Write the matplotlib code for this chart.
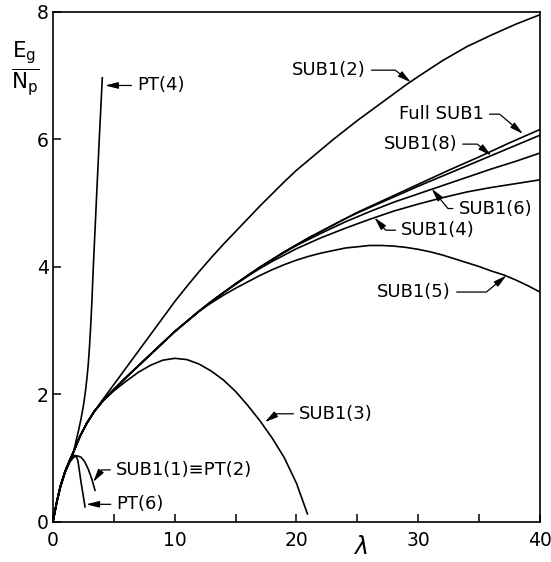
import matplotlib
matplotlib.use("Agg")
import matplotlib.pyplot as plt

plt.rcParams['font.family'] = ['DejaVu Sans']

# curves (lambda, E_g/N_p)
start_lam = [0, 0.3, 0.6, 1.0, 1.4, 1.7]
start_E = [0, 0.30, 0.55, 0.79, 0.97, 1.10]

pt4_lam = start_lam + [1.9, 2.1, 2.3, 2.5, 2.65, 2.8, 2.9, 3.0, 3.1, 3.2, 3.3, 3.55, 3.8, 4.05]
pt4_E = start_E + [1.27, 1.43, 1.61, 1.82, 2.02, 2.27, 2.48, 2.75, 3.08, 3.48, 3.95, 4.98, 6.0, 6.96]

pt6_lam = [0, 0.3, 0.6, 1.0, 1.4, 1.7, 1.9, 2.05, 2.3, 2.63]
pt6_E = [0, 0.29, 0.53, 0.78, 0.96, 1.04, 1.03, 0.95, 0.62, 0.23]

sub1_1_lam = [0, 0.3, 0.6, 1.0, 1.4, 1.7, 2.0, 2.3, 2.6, 2.9, 3.2, 3.45]
sub1_1_E = [0, 0.29, 0.53, 0.77, 0.94, 1.01, 1.03, 1.01, 0.94, 0.82, 0.66, 0.49]

bundle_lam = start_lam + [2.2, 2.77, 3.4]
bundle_E = start_E + [1.33, 1.54, 1.73]

sub1_2_lam = bundle_lam + [4, 5, 6, 7, 8, 9, 10, 11, 12, 13, 14, 15, 16, 17, 18, 19, 20, 21, 22,
                           23, 24, 25, 26, 27, 28, 29, 30, 32, 34, 36, 38, 40]
sub1_2_E = bundle_E + [1.89, 2.15, 2.41, 2.67, 2.93, 3.19, 3.45, 3.69, 3.92, 4.14, 4.35,
                       4.55, 4.75, 4.95, 5.14, 5.33, 5.51, 5.67, 5.83, 5.99, 6.14, 6.29,
                       6.43, 6.57, 6.71, 6.85, 6.98, 7.23, 7.45, 7.63, 7.80, 7.95]

sub1_3_lam = bundle_lam + [4.13, 5, 6, 7, 8, 9, 10, 11, 12, 13, 14, 15, 16, 17, 18, 19, 20, 20.9]
sub1_3_E = bundle_E + [1.90, 2.05, 2.20, 2.34, 2.45, 2.53, 2.56, 2.54, 2.47, 2.36, 2.22, 2.04,
                       1.82, 1.58, 1.31, 1.00, 0.60, 0.12]

mid_lam = bundle_lam + [4.13, 5, 6, 7, 8, 9, 10, 11, 12]
mid_E = bundle_E + [1.90, 2.07, 2.26, 2.44, 2.62, 2.80, 2.98, 3.14, 3.30]

full_lam = mid_lam + [13, 14, 15, 16, 17, 18, 19, 20, 21, 22, 23, 24, 25, 27.5, 30, 32.5, 35, 37.5, 40]
full_E = mid_E + [3.45, 3.59, 3.73, 3.86, 3.99, 4.11, 4.23, 4.34, 4.45, 4.55, 4.65, 4.75, 4.85,
                  5.07, 5.29, 5.51, 5.72, 5.94, 6.15]

sub1_8_lam = mid_lam + [13, 14, 15, 16, 17, 18, 19, 20, 21, 22, 23, 24, 25, 27.5, 30, 32.5, 35, 37.5, 40]
sub1_8_E = mid_E + [3.45, 3.59, 3.73, 3.86, 3.99, 4.11, 4.23, 4.34, 4.45, 4.55, 4.65, 4.75, 4.84,
                    5.05, 5.26, 5.46, 5.66, 5.86, 6.06]

sub1_6_lam = mid_lam + [13, 14, 15, 16, 17, 18, 19, 20, 22, 24, 26, 28, 30, 32, 34, 36, 38, 40]
sub1_6_E = mid_E + [3.45, 3.59, 3.73, 3.86, 3.99, 4.11, 4.22, 4.33, 4.52, 4.70, 4.86, 5.01, 5.14,
                    5.27, 5.40, 5.53, 5.65, 5.78]

sub1_4_lam = mid_lam + [13, 14, 15, 16, 17, 18, 19, 20, 22, 24, 26, 28, 30, 32, 34, 36, 38, 40]
sub1_4_E = mid_E + [3.45, 3.59, 3.72, 3.85, 3.97, 4.08, 4.18, 4.28, 4.45, 4.60, 4.74, 4.87, 4.98,
                    5.08, 5.17, 5.24, 5.30, 5.36]

sub1_5_lam = mid_lam + [13, 14, 15, 16, 17, 18, 19, 20, 21, 22, 23, 24, 25, 26, 27, 28, 29, 30,
                        31, 32, 33, 34, 35, 36, 37, 38, 39, 40]
sub1_5_E = mid_E + [3.43, 3.55, 3.66, 3.76, 3.86, 3.95, 4.03, 4.10, 4.16, 4.21, 4.25, 4.29, 4.31,
                    4.33, 4.33, 4.32, 4.30, 4.27, 4.23, 4.18, 4.12, 4.06, 4.00, 3.93, 3.87, 3.79,
                    3.70, 3.60]

fig = plt.figure(figsize=(5.51, 5.62), dpi=100)
ax = fig.add_axes([0.0962, 0.072, 0.8838, 0.9075])

for lam, E in [(pt4_lam, pt4_E), (pt6_lam, pt6_E), (sub1_1_lam, sub1_1_E),
               (sub1_2_lam, sub1_2_E), (sub1_3_lam, sub1_3_E), (full_lam, full_E),
               (sub1_8_lam, sub1_8_E), (sub1_6_lam, sub1_6_E), (sub1_4_lam, sub1_4_E),
               (sub1_5_lam, sub1_5_E)]:
    ax.plot(lam, E, color='black', lw=1.2, solid_joinstyle='round')

ax.set_xlim(0, 40)
ax.set_ylim(0, 8)
ax.set_xticks([0, 10, 20, 30, 40])
ax.set_xticks([5, 15, 25, 35], minor=True)
ax.set_yticks([0, 2, 4, 6, 8])
ax.tick_params(axis='both', which='both', direction='in', length=6, width=1.1,
               labelsize=13.5, top=False, right=False)
ax.tick_params(axis='x', pad=7)
ax.tick_params(axis='y', pad=3)
for s in ax.spines.values():
    s.set_linewidth(1.2)

fig.text(0.653, 0.026, r'$\lambda$', fontsize=17, ha='center', va='center')
fig.text(0.045, 0.877, r'$\frac{\mathregular{E_g}}{\mathregular{N_p}}$', fontsize=22,
         ha='center', va='center')

arrow = dict(arrowstyle='-|>,head_length=0.6,head_width=0.15', color='black', lw=0.9,
             shrinkA=2, shrinkB=0)


def label(txt, tip, pos, ha, angB=None):
    ap = dict(arrow)
    if angB is not None:
        ap['connectionstyle'] = 'angle,angleA=0,angleB=%g,rad=0' % angB
    ax.annotate(txt, xy=tip, xytext=pos, ha=ha, va='center', fontsize=13, arrowprops=ap)


label('PT(4)', (4.27, 6.84), (6.9, 6.84), 'left')
label('SUB1(2)', (29.4, 6.89), (25.7, 7.08), 'right', -37.6)
label('Full SUB1', (38.6, 6.08), (35.4, 6.39), 'right', -40.3)
label('SUB1(8)', (36.0, 5.74), (33.2, 5.92), 'right', -39.4)
label('SUB1(6)', (31.1, 5.22), (33.3, 4.91), 'left', 129.6)
label('SUB1(4)', (26.4, 4.77), (28.6, 4.57), 'left', 131.3)
label('SUB1(5)', (37.25, 3.86), (32.7, 3.60), 'right', 39.5)
label('SUB1(3)', (17.4, 1.56), (20.2, 1.69), 'left', -145)
label('SUB1(1)\u2261PT(2)', (3.3, 0.62), (5.17, 0.81), 'left', -125)
label('PT(6)', (2.72, 0.27), (5.2, 0.27), 'left')

fig.savefig('out.png', dpi=100)
